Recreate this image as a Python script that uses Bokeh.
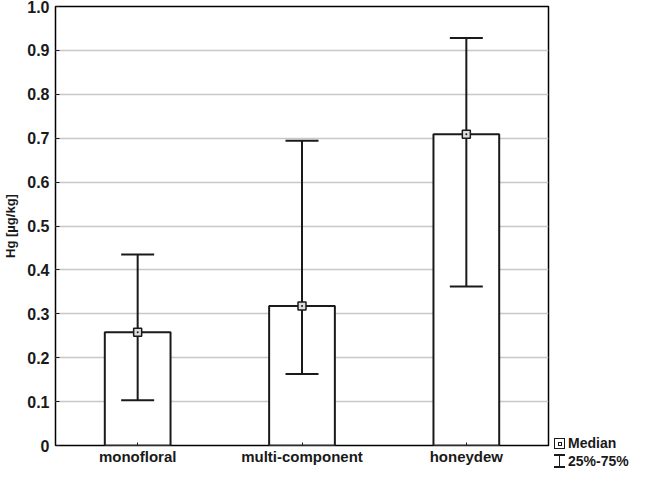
from bokeh.plotting import figure
from bokeh.layouts import row
from bokeh.models import ColumnDataSource, Range1d, FixedTicker, Div
from bokeh.embed import file_html
from bokeh.resources import INLINE

categories = ["monofloral", "multi-component", "honeydew"]
medians = [0.258, 0.318, 0.709]
q25 = [0.103, 0.163, 0.362]
q75 = [0.435, 0.694, 0.928]
y_ticks = [0.0, 0.1, 0.2, 0.3, 0.4, 0.5, 0.6, 0.7, 0.8, 0.9, 1.0]
y_label = "Hg [µg/kg]"
legend_texts = ["Median", "25%-75%"]

FONT = "Liberation Sans"
INK = "#1a1a1a"
H = 467

src = ColumnDataSource(dict(cat=categories, med=medians, lo=q25, hi=q75))

p = figure(x_range=categories, y_range=Range1d(0, 1.0), width=552, height=H,
           output_backend="svg", toolbar_location=None,
           min_border_left=54, min_border_right=4, min_border_top=6, min_border_bottom=0)

p.background_fill_color = "white"
p.border_fill_color = "white"
p.outline_line_color = "black"
p.outline_line_width = 1.5

p.xgrid.grid_line_color = None
p.ygrid.grid_line_color = "#c8c8c8"
p.ygrid.grid_line_width = 1.5

p.vbar(x="cat", top="med", bottom=0, width=0.4, source=src,
       fill_color="white", line_color=INK, line_width=2)
p.segment(x0="cat", y0="lo", x1="cat", y1="hi", source=src, line_color=INK, line_width=2)
p.scatter(x="cat", y="lo", source=src, marker="dash", size=33, line_color=INK, line_width=2)
p.scatter(x="cat", y="hi", source=src, marker="dash", size=33, line_color=INK, line_width=2)
p.scatter(x="cat", y="med", source=src, marker="square_dot", size=8,
          fill_color="#dddddd", line_color=INK, line_width=1.5)

p.yaxis.ticker = FixedTicker(ticks=y_ticks)
p.yaxis.major_label_overrides = {0: "0", 1: "1.0"}
p.yaxis.axis_label = y_label
p.yaxis.axis_label_text_font = FONT
p.yaxis.axis_label_text_font_style = "bold"
p.yaxis.axis_label_text_font_size = "13px"
p.yaxis.axis_label_standoff = 6
p.yaxis.major_label_text_font = FONT
p.yaxis.major_label_text_font_style = "bold"
p.yaxis.major_label_text_font_size = "16px"
p.yaxis.major_label_standoff = 6
p.yaxis.minor_tick_line_color = None
p.yaxis.major_tick_in = 4
p.yaxis.major_tick_out = 0
p.yaxis.axis_line_color = None

p.xaxis.axis_label = None
p.xaxis.major_label_text_font = FONT
p.xaxis.major_label_text_font_style = "bold"
p.xaxis.major_label_text_font_size = "15px"
p.xaxis.major_label_standoff = 2
p.xaxis.major_tick_in = 3
p.xaxis.major_tick_out = 0
p.xaxis.axis_line_color = None

for a in (p.xaxis, p.yaxis):
    a.major_label_text_color = INK
    a.axis_label_text_color = INK
    a.major_tick_line_color = INK

# legend panel beside the plot (HTML, outside the plot frame)
LW = 77
box = "position:absolute;box-sizing:border-box;"
legend_html = (
    f'<div style="position:relative;width:{LW}px;height:{H}px;margin-left:-4px;margin-top:-3px;'
    f'font-family:\'{FONT}\';font-weight:bold;font-size:14px;color:{INK};">'
    # median symbol: square with small square inside
    f'<div style="{box}left:1px;top:436px;width:11px;height:11px;border:1.5px solid {INK};background:#fff;"></div>'
    f'<div style="{box}left:4.5px;top:439.5px;width:4px;height:4px;border:1.5px solid {INK};"></div>'
    f'<div style="position:absolute;left:15px;top:434px;line-height:14px;white-space:nowrap;">{legend_texts[0]}</div>'
    # 25%-75% symbol: I-beam
    f'<div style="{box}left:1px;top:452px;width:11px;height:1.5px;background:{INK};"></div>'
    f'<div style="{box}left:1px;top:464px;width:11px;height:1.5px;background:{INK};"></div>'
    f'<div style="{box}left:5.75px;top:452px;width:1.5px;height:13px;background:{INK};"></div>'
    f'<div style="position:absolute;left:15px;top:452px;line-height:14px;white-space:nowrap;">{legend_texts[1]}</div>'
    '</div>'
)
lg = Div(text=legend_html, width=LW, height=H)

layout = row(p, lg, spacing=0)
open("out.html", "w").write(file_html(layout, INLINE))
